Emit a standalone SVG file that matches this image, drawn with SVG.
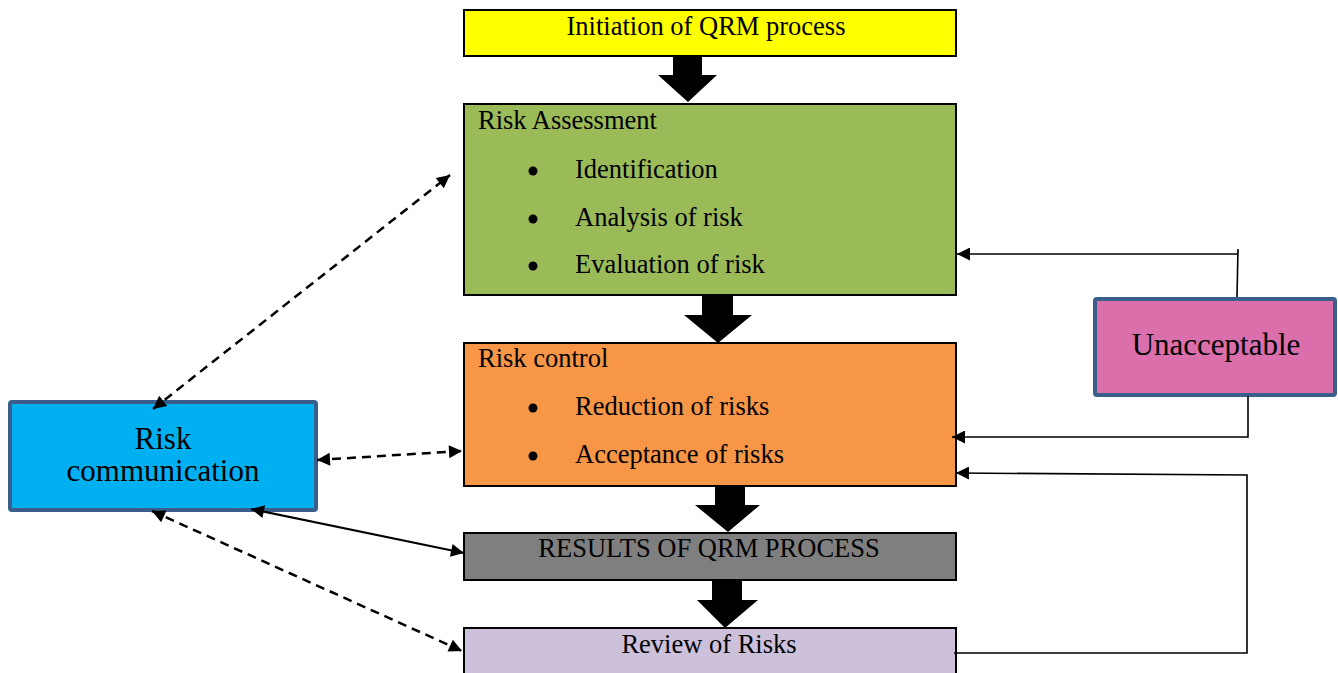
<svg xmlns="http://www.w3.org/2000/svg" width="1338" height="673" viewBox="0 0 1338 673">
  <style>
    .box { stroke: #000; stroke-width: 2; }
    .side { stroke: #3A5E8C; stroke-width: 4; }
    .t { font-family: "Liberation Serif", "Times New Roman", serif; font-size: 26.5px; fill: #000; }
    .big { font-family: "Liberation Serif", "Times New Roman", serif; font-size: 31px; fill: #000; }
    .block { fill: #000; }
    .dash { fill: none; stroke: #000; stroke-width: 2.5; stroke-dasharray: 9 6; }
    .solid { fill: none; stroke: #000; stroke-width: 2; }
    .feed { fill: none; stroke: #000; stroke-width: 1.6; }
  </style>
  <defs>
    <marker id="head" viewBox="0 0 10 10" refX="10" refY="5" markerWidth="16" markerHeight="13" markerUnits="userSpaceOnUse" orient="auto-start-reverse">
      <path d="M0,0 L10,5 L0,10 z" fill="#000"/>
    </marker>
  </defs>

  <rect width="1338" height="673" fill="#fff"/>

  <!-- process flow -->
  <g id="initiation">
    <rect class="box" x="464" y="10" width="492" height="46" fill="#FFFF00"/>
    <text class="t" x="706" y="35" text-anchor="middle">Initiation of QRM process</text>
  </g>

  <g id="risk-assessment">
    <rect class="box" x="464" y="104" width="492" height="191" fill="#9BBB59"/>
    <text class="t" x="478" y="129">Risk Assessment</text>
    <circle cx="533" cy="171" r="4.5"/>
    <text class="t" x="575" y="178">Identification</text>
    <circle cx="533" cy="219" r="4.5"/>
    <text class="t" x="575" y="226">Analysis of risk</text>
    <circle cx="533" cy="266" r="4.5"/>
    <text class="t" x="575" y="273">Evaluation of risk</text>
  </g>

  <g id="risk-control">
    <rect class="box" x="464" y="343" width="492" height="143" fill="#F79646"/>
    <text class="t" x="478" y="367">Risk control</text>
    <circle cx="533" cy="408" r="4.5"/>
    <text class="t" x="575" y="415">Reduction of risks</text>
    <circle cx="533" cy="456" r="4.5"/>
    <text class="t" x="575" y="463">Acceptance of risks</text>
  </g>

  <g id="results">
    <rect class="box" x="464" y="533" width="492" height="47" fill="#7F7F7F"/>
    <text class="t" x="709" y="557" text-anchor="middle">RESULTS OF QRM PROCESS</text>
  </g>

  <g id="review">
    <rect class="box" x="464" y="628" width="492" height="60" fill="#CCC0DA"/>
    <text class="t" x="709" y="653" text-anchor="middle">Review of Risks</text>
  </g>

  <g id="unacceptable">
    <rect class="side" x="1095" y="299" width="240" height="96" rx="2" fill="#DA6FAC"/>
    <text class="big" x="1216" y="355" text-anchor="middle">Unacceptable</text>
  </g>

  <g id="risk-communication">
    <rect class="side" x="10" y="402" width="306" height="108" rx="2" fill="#00B0F0"/>
    <text class="big" x="163" y="449" text-anchor="middle">Risk</text>
    <text class="big" x="163" y="481" text-anchor="middle">communication</text>
  </g>

  <g id="connectors">
    <!-- block arrows down the main flow -->
    <path class="block" d="M673,57 H702 V75 H717 L688,102 L658,75 H673 Z"/>
    <path class="block" d="M702,296 H733 V315 H752 L718,343 L684,315 H702 Z"/>
    <path class="block" d="M715,487 H745 V505 H760 L728,532 L695,505 H715 Z"/>
    <path class="block" d="M712,581 H742 V600 H758 L725,628 L697,600 H712 Z"/>

    <!-- communication links -->
    <line class="dash" x1="153" y1="409" x2="450" y2="175" marker-start="url(#head)" marker-end="url(#head)"/>
    <line class="dash" x1="317" y1="460" x2="462" y2="451" marker-start="url(#head)" marker-end="url(#head)"/>
    <line class="solid" x1="251" y1="509" x2="464" y2="553" marker-start="url(#head)" marker-end="url(#head)"/>
    <line class="dash" x1="152" y1="511" x2="462" y2="651" marker-start="url(#head)" marker-end="url(#head)"/>

    <!-- feedback from unacceptable outcome -->
    <line class="feed" x1="1238" y1="249" x2="1237" y2="297"/>
    <line class="feed" x1="1238" y1="254" x2="957" y2="254" marker-end="url(#head)"/>
    <polyline class="feed" points="1248,396 1248,437 952,437" marker-end="url(#head)"/>

    <!-- review loop back into risk control -->
    <polyline class="feed" points="954,653 1247,653 1247,475 956,473" marker-end="url(#head)"/>
  </g>
</svg>
